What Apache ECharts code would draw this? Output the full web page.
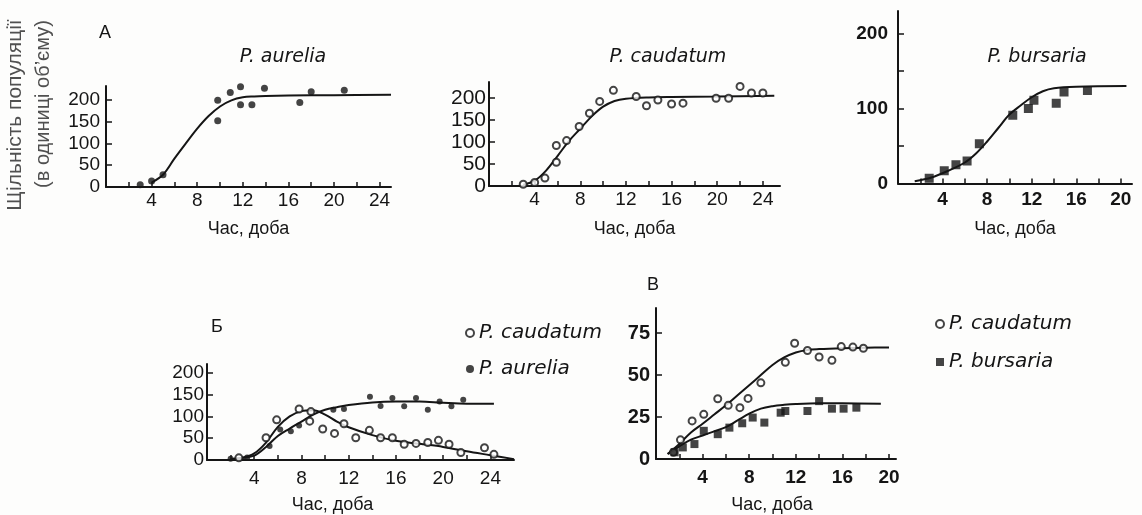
<!DOCTYPE html>
<html><head><meta charset="utf-8">
<script src="https://cdn.jsdelivr.net/npm/echarts@6/dist/echarts.min.js"></script>
<style>html,body{margin:0;padding:0;background:#fdfdfc}#c{width:1142px;height:515px}</style>
</head><body><div id="c"></div>
<script>
// ---------- Panel A1: P. aurelia (alone) ----------
const aureliaX = [3, 4, 5, 9.8, 9.8, 10.9, 11.8, 11.8, 12.8, 13.9, 17, 18, 20.9];
const aureliaY = [5, 14, 28, 152, 199, 217, 230, 189, 189, 227, 194, 219, 222];
const aureliaFitX = [4, 5, 6, 7, 8, 9, 10, 11, 12, 13, 14, 16, 20, 25];
const aureliaFitY = [10, 28, 65, 100, 134, 163, 185, 199, 206, 208, 209, 210, 211, 212];

// ---------- Panel A2: P. caudatum (alone) ----------
const caudatumX = [3, 4, 4.9, 5.9, 5.9, 6.8, 7.9, 8.8, 9.7, 10.9, 12.9, 13.8, 14.8, 16, 17, 19.9, 21, 22, 23, 24];
const caudatumY = [4, 8, 18, 54, 92, 103, 135, 165, 192, 217, 203, 182, 195, 186, 188, 199, 199, 226, 211, 211];
const caudatumFitX = [3, 4, 5, 6, 7, 8, 9, 10, 11, 12, 14, 16, 20, 25];
const caudatumFitY = [3, 12, 35, 68, 102, 130, 158, 180, 193, 198, 201, 202, 203, 205];

// ---------- Panel A3: P. bursaria (alone) ----------
const bursariaX = [2.8, 4.15, 5.2, 6.2, 7.3, 10.3, 11.7, 12.2, 14.2, 14.9, 17];
const bursariaY = [7, 17, 25, 30, 53, 91, 100, 111, 107, 122, 124];
const bursariaFitX = [1.5, 3, 4.5, 6, 7, 8, 9, 10, 11, 12, 13, 14, 16, 20.5];
const bursariaFitY = [3, 8, 17, 28, 40, 56, 74, 92, 104, 115, 123, 127, 129, 130];

// ---------- Panel Б: P. caudatum + P. aurelia together ----------
const mixCaudX = [2.7, 5.0, 5.9, 7.8, 8.7, 8.8, 9.8, 10.8, 11.6, 12.6, 13.75, 14.7, 15.7, 16.7, 17.7, 18.7, 19.6, 20.5, 21.5, 23.5, 24.3];
const mixCaudY = [5, 51, 92, 117, 89, 111, 71, 61, 83, 51, 68, 51, 51, 36, 38, 40, 45, 36, 17, 28, 13];
const mixAurX = [2.0, 3.4, 5.3, 6.2, 7.1, 7.8, 10.7, 11.6, 13.8, 14.7, 15.7, 16.7, 17.7, 18.7, 19.7, 20.7, 21.7];
const mixAurY = [3, 6, 32, 70, 66, 79, 115, 117, 145, 124, 142, 123, 142, 115, 134, 123, 138];
const mixCaudFitX = [2, 3, 4, 5, 6, 7, 8, 9, 10, 11, 12, 14, 16, 18, 20, 22, 24, 26];
const mixCaudFitY = [2, 5, 15, 40, 76, 100, 112, 114, 104, 88, 75, 57, 44, 37, 30, 20, 11, 2];
const mixAurFitX = [2, 3, 4, 5, 6, 7, 8, 9, 10, 11, 12, 14, 16, 18, 20, 22, 24.3];
const mixAurFitY = [2, 5, 10, 30, 55, 72, 88, 104, 115, 121, 126, 132, 134, 134, 131, 129, 129];

// ---------- Panel В: P. caudatum + P. bursaria together ----------
const cbCaudX = [1.5, 2.1, 3.1, 4.1, 5.3, 6.2, 7.2, 7.9, 9.0, 11.1, 11.9, 13.0, 14.0, 15.1, 15.9, 16.9, 17.8];
const cbCaudY = [4, 11.4, 22.7, 26.6, 35.9, 32, 30.6, 36.1, 45.4, 57.6, 69, 64.7, 60.8, 58.8, 67, 66.7, 66];
const cbBursX = [1.6, 2.3, 3.3, 4.1, 5.3, 6.3, 7.4, 8.3, 9.3, 10.7, 11.1, 13.0, 14.0, 15.1, 16.1, 17.2];
const cbBursY = [4, 6.9, 8.9, 16.8, 14.8, 18.7, 21.3, 24.7, 21.7, 27.6, 28.6, 28.6, 34.5, 30, 30, 30.6];
const cbCaudFitX = [1, 2, 3, 4, 5, 6, 7, 8, 9, 10, 11, 12, 13, 14, 16, 18, 20];
const cbCaudFitY = [3, 9, 15.8, 21, 26.5, 32, 38, 44, 50, 56, 60.5, 63.5, 65, 65.5, 66, 66.3, 66.5];
const cbBursFitX = [1, 2, 3, 4, 5, 6, 7, 8, 9, 10, 11, 12, 14, 16, 19.3];
const cbBursFitY = [3, 7.5, 11.5, 14, 16.5, 19, 23, 27, 30, 31.5, 32.3, 32.8, 33.2, 33.2, 33];

// ---------- Tick values / labels ----------
const xTicks24 = [2, 4, 6, 8, 10, 12, 14, 16, 18, 20, 22, 24];
const xLabels24 = [4, 8, 12, 16, 20, 24];
const xTicks20 = [2, 4, 6, 8, 10, 12, 14, 16, 18, 20];
const xLabels20 = [4, 8, 12, 16, 20];
const yTicks200 = [50, 100, 150, 200];
const yLabels200 = [0, 50, 100, 150, 200];
const yLabelsBurs = [0, 100, 200];
const yTicks75 = [25, 50, 75];
const yLabels75 = [0, 25, 50, 75];

const xName = 'Час, доба';
const yNameLine1 = 'Щільність популяції';
const yNameLine2 = '(в одиниці об’єму)';

const INK = '#151515';
const FONT = 'Liberation Sans, Arial, sans-serif';
const IFONT = 'DejaVu Sans, sans-serif';
const zip = (xs, ys) => xs.map((x, i) => [x, ys[i]]);

const grids = [
  { left: 106, top: 86, width: 285, height: 101 },   // A1
  { left: 489, top: 82, width: 291, height: 104 },   // A2
  { left: 898, top: 11, width: 234, height: 172.5 }, // A3
  { left: 207, top: 364, width: 307, height: 97 },   // Б
  { left: 656, top: 308, width: 240, height: 152 }   // В
];

function xAx(gi, max, ticks, labels, margin, nameGap, nameShift, bold) {
  return {
    type: 'value', gridIndex: gi, min: 0, max: max,
    axisLine: { show: true, onZero: false, lineStyle: { color: INK, width: 2 } },
    axisTick: { show: true, inside: true, length: 5, customValues: ticks, lineStyle: { color: INK, width: 1.5 } },
    axisLabel: { customValues: labels, margin: margin, color: INK, fontSize: 19, fontFamily: FONT, fontWeight: bold ? 'bold' : 'normal' },
    splitLine: { show: false },
    name: xName, nameLocation: 'middle', nameGap: nameGap,
    nameTextStyle: { color: INK, fontSize: 18, fontFamily: FONT, padding: nameShift ? [0, nameShift, 0, 0] : 0 }
  };
}
function yAx(gi, max, ticks, labels, margin, fs, bold) {
  return {
    type: 'value', gridIndex: gi, min: 0, max: max,
    axisLine: { show: true, onZero: false, lineStyle: { color: INK, width: 2 } },
    axisTick: { show: true, inside: true, length: 6, customValues: ticks, lineStyle: { color: INK, width: 1.5 } },
    axisLabel: { customValues: labels, margin: margin, color: INK, fontSize: fs, fontFamily: FONT, fontWeight: bold ? 'bold' : 'normal' },
    splitLine: { show: false }
  };
}

function dots(name, gi, xs, ys, symbol, size) {
  const s = {
    type: 'scatter', name: name, xAxisIndex: gi, yAxisIndex: gi,
    data: zip(xs, ys), symbol: symbol, symbolSize: size, z: 5,
    itemStyle: { color: INK }
  };
  if (symbol === 'emptyCircle') s.itemStyle.borderWidth = 1.6;
  return s;
}
function fit(name, gi, xs, ys) {
  return {
    type: 'line', name: name, xAxisIndex: gi, yAxisIndex: gi,
    data: zip(xs, ys), showSymbol: false, smooth: 0.35, silent: true, z: 3,
    lineStyle: { color: INK, width: 2 }
  };
}

const txt = (t, x, y, font, fill, rot) => ({
  type: 'text', x: x, y: y, rotation: rot || 0, silent: true,
  style: { text: t, font: font, fill: fill || INK, textAlign: 'center', textVerticalAlign: 'middle' }
});

const chart = echarts.init(document.getElementById('c'), null, { renderer: 'canvas' });
chart.setOption({
  backgroundColor: '#fdfdfc',
  animation: false,
  grid: grids,
  xAxis: [
    xAx(0, 25, xTicks24, xLabels24, 4, 33, 0, false),
    xAx(1, 25.5, xTicks24, xLabels24, 4, 34, 0, false),
    xAx(2, 21, xTicks20, xLabels20, 7, 37, 0, true),
    xAx(3, 26, xTicks24, xLabels24, 9, 36, 56, false),
    xAx(4, 20.6, xTicks20, xLabels20, 9, 37, 8, true)
  ],
  yAxis: [
    yAx(0, 232, yTicks200, yLabels200, 6, 19, false),
    yAx(1, 236, yTicks200, yLabels200, 3, 21, false),
    yAx(2, 230, yTicks200, yLabelsBurs, 10, 19, true),
    yAx(3, 220, yTicks200, yLabels200, 3, 19, false),
    yAx(4, 90, yTicks75, yLabels75, 6, 20, true)
  ],
  legend: [
    { data: ['P. caudatum', 'P. aurelia'], orient: 'vertical', left: 460, top: 318, itemWidth: 8, itemHeight: 8, itemGap: 16, selectedMode: false,
      textStyle: { fontStyle: 'italic', fontSize: 20, fontFamily: IFONT, color: INK } },
    { data: ['P. caudatum', 'P. bursaria'], orient: 'vertical', left: 930, top: 309, itemWidth: 8, itemHeight: 8, itemGap: 18, selectedMode: false,
      textStyle: { fontStyle: 'italic', fontSize: 20, fontFamily: IFONT, color: INK } }
  ],
  series: [
    dots('P. aurelia', 0, aureliaX, aureliaY, 'circle', 7),
    fit('fit A1', 0, aureliaFitX, aureliaFitY),
    dots('P. caudatum', 1, caudatumX, caudatumY, 'emptyCircle', 7),
    fit('fit A2', 1, caudatumFitX, caudatumFitY),
    dots('P. bursaria', 2, bursariaX, bursariaY, 'rect', 9),
    fit('fit A3', 2, bursariaFitX, bursariaFitY),
    dots('P. caudatum', 3, mixCaudX, mixCaudY, 'emptyCircle', 7),
    dots('P. aurelia', 3, mixAurX, mixAurY, 'circle', 6),
    fit('fit Б caudatum', 3, mixCaudFitX, mixCaudFitY),
    fit('fit Б aurelia', 3, mixAurFitX, mixAurFitY),
    dots('P. caudatum', 4, cbCaudX, cbCaudY, 'emptyCircle', 7),
    dots('P. bursaria', 4, cbBursX, cbBursY, 'rect', 8),
    fit('fit В caudatum', 4, cbCaudFitX, cbCaudFitY),
    fit('fit В bursaria', 4, cbBursFitX, cbBursFitY)
  ],
  graphic: [
    txt(yNameLine1, 15, 115, '21px ' + FONT, '#505050', Math.PI / 2),
    txt(yNameLine2, 43, 104, '20px ' + FONT, '#505050', Math.PI / 2),
    txt('А', 105, 33, '18px ' + FONT),
    txt('Б', 217, 327, '18px ' + FONT),
    txt('В', 653, 285, '18px ' + FONT),
    txt('P. aurelia', 283, 57, 'italic 19px ' + IFONT),
    txt('P. caudatum', 668, 57, 'italic 19px ' + IFONT),
    txt('P. bursaria', 1037, 57, 'italic 19px ' + IFONT)
  ]
});
</script>
</body></html>
